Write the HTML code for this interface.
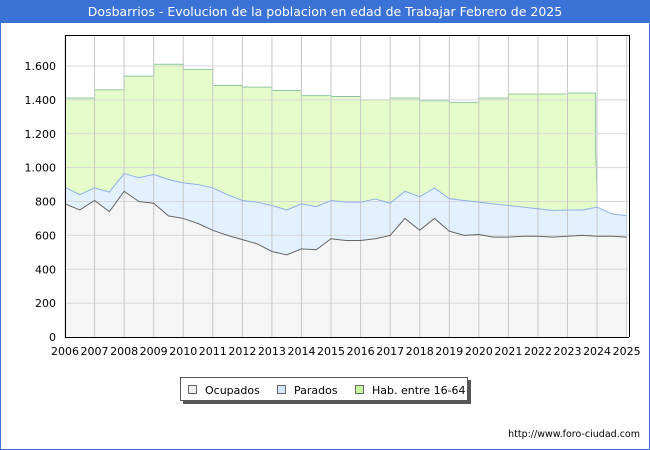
<!DOCTYPE html>
<html><head><meta charset="utf-8"><style>
body{margin:0;width:650px;height:450px;overflow:hidden;background:#fff;font-family:"DejaVu Sans","Liberation Sans",sans-serif;}
#wrap{position:absolute;left:0;top:0;width:648px;height:448px;border:1px solid #3a72d6;}
#title{position:absolute;left:0;top:0;width:650px;height:23px;background:#3a72d6;color:#fff;font-size:12.5px;line-height:23px;text-align:center;}
</style></head><body>
<div id="wrap"></div>
<div id="title">Dosbarrios - Evolucion de la poblacion en edad de Trabajar Febrero de 2025</div>
<svg id="chart" width="650" height="450" style="position:absolute;left:0;top:0" font-family="DejaVu Sans, Liberation Sans, sans-serif"></svg>
<script>
const years=[2006,2007,2008,2009,2010,2011,2012,2013,2014,2015,2016,2017,2018,2019,2020,2021,2022,2023];
const habitantes=[1410,1460,1540,1610,1580,1485,1475,1455,1425,1420,1400,1410,1395,1385,1410,1435,1435,1440];
const times=[2006,2006.5,2007,2007.5,2008,2008.5,2009,2009.5,2010,2010.5,2011,2011.5,2012,2012.5,2013,2013.5,2014,2014.5,2015,2015.5,2016,2016.5,2017,2017.5,2018,2018.5,2019,2019.5,2020,2020.5,2021,2021.5,2022,2022.5,2023,2023.5,2024,2024.5,2025];
const ocupados=[786,750,806,740,860,800,790,715,700,670,630,600,575,550,505,485,520,515,580,570,570,580,600,700,630,700,625,600,605,590,590,595,595,590,595,600,595,595,590];
const parados=[98,90,74,116,105,140,170,215,210,230,250,240,231,246,271,265,266,255,226,226,226,235,190,160,198,180,192,206,191,196,186,172,162,157,155,150,172,132,126];
const yTicks=[0,200,400,600,800,1000,1200,1400,1600];
const yTickLabels=["0","200","400","600","800","1.000","1.200","1.400","1.600"];
const xTicks=[2006,2007,2008,2009,2010,2011,2012,2013,2014,2015,2016,2017,2018,2019,2020,2021,2022,2023,2024,2025];

const L=65,R=629,T=35,B=337;
const X0=2006,X1=2025.08;
const x=t=>L+(t-X0)/(X1-X0)*(R-L);
const y=v=>B-v*(B-66)/1600;
const svg=document.getElementById('chart');
const NS='http://www.w3.org/2000/svg';
function mk(tag,attrs){const e=document.createElementNS(NS,tag);for(const k in attrs)e.setAttribute(k,attrs[k]);svg.appendChild(e);return e;}

const bg=mk('rect',{x:L,y:T,width:R-L,height:B-T,fill:'#fff'});



let hp=`M${x(2006)},${y(0)}`;
years.forEach((yr,i)=>{hp+=` L${x(yr)},${y(habitantes[i])} L${x(yr+(i==years.length-1?0.95:1))},${y(habitantes[i])}`;});
hp+=` L${x(2023.95)},${y(1090)} L${x(2024.0)},${y(865)} L${x(2024.0)},${y(0)} Z`;
const ha=mk('path',{d:hp,fill:'#e5fcca',stroke:'#8fc8a0','stroke-width':1});



const tot=times.map((t,i)=>ocupados[i]+parados[i]);
let pp=`M${x(times[0])},${y(0)}`+times.map((t,i)=>` L${x(t)},${y(tot[i])}`).join('')+` L${x(times[times.length-1])},${y(0)} Z`;
const pa=mk('path',{d:pp,fill:'#e3f0fd',stroke:'none'});


let op=`M${x(times[0])},${y(0)}`+times.map((t,i)=>` L${x(t)},${y(ocupados[i])}`).join('')+` L${x(times[times.length-1])},${y(0)} Z`;
const oa=mk('path',{d:op,fill:'#f5f5f5',stroke:'none'});



yTicks.forEach((v,i)=>{
 if(v>0){const g=mk('line',{x1:L,x2:R,y1:y(v),y2:y(v),stroke:'#d8d8d8','stroke-width':1});
 
 }
 const tl=mk('text',{x:L-9,y:y(v)+4,'text-anchor':'end','font-size':11,fill:'#000'});tl.textContent=yTickLabels[i];
 
 
});
xTicks.forEach(t=>{
 const g=mk('line',{x1:x(t),x2:x(t),y1:T,y2:B,stroke:'#c8c8c8','stroke-width':1});
 
 
 const tl=mk('text',{x:x(t),y:355,'text-anchor':'middle','font-size':11,fill:'#000'});tl.textContent=t;
 
 
});

const pl=mk('polyline',{points:times.map((t,i)=>x(t)+','+y(tot[i])).join(' '),fill:'none',stroke:'#8fb0e8','stroke-width':1});


const ol=mk('polyline',{points:times.map((t,i)=>x(t)+','+y(ocupados[i])).join(' '),fill:'none',stroke:'#666','stroke-width':1});



const ax=mk('path',{d:`M${L+0.5},${T} L${L+0.5},${B+0.5} L${R},${B+0.5} M${L},${T+0.5} L${R},${T+0.5} M${R+0.5},${T} L${R+0.5},${B}`,stroke:'#000','stroke-width':1,fill:'none'});



const ls=mk('rect',{x:183,y:380,width:288,height:24,fill:'#555'});


const lb=mk('rect',{x:180.5,y:377.5,width:287,height:23,fill:'#fff',stroke:'#555'});


[["Ocupados","#eeeeee",188],["Parados","#d4e6fb",277],["Hab. entre 16-64","#c8f5a0",355]].forEach(([n,c,lx])=>{
 const s=mk('rect',{x:lx+0.5,y:385.5,width:8,height:8,fill:c,stroke:'#666'});
 
 
 const t=mk('text',{x:lx+17,y:394,'font-size':11,fill:'#000'});t.textContent=n;
 
 
});
const u=mk('text',{x:640,y:437,'text-anchor':'end','font-size':9.5,fill:'#000'});u.textContent='http://www.foro-ciudad.com';


</script>
</body></html>
